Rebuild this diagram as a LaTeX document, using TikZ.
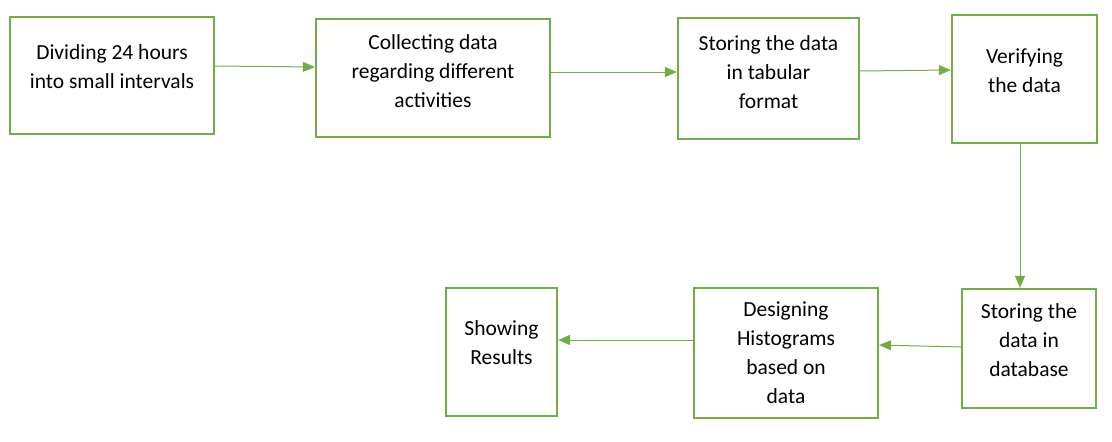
\documentclass[tikz,border=0pt]{standalone}
\usepackage{fontspec}
\setmainfont{Carlito}
\usetikzlibrary{arrows.meta}
\definecolor{boxgreen}{HTML}{70AD47}

\begin{document}
\begin{tikzpicture}[x=1pt,y=-1pt]

		\tikzset{stepbox/.style = {draw=boxgreen,line width=2.2pt,inner sep=0pt}}
		\tikzset{txt/.style = {align=center,font=\fontsize{21.5}{29}\selectfont,inner sep=0pt}}
		\tikzset{edge/.style = {-{Triangle[length=12pt,width=10pt]},draw=boxgreen,line width=1pt}}
		\useasboundingbox (0,0) rectangle (1112,442);
		% boxes
		\node[stepbox,minimum width=204pt,minimum height=117pt] (div) at (112,75.5) {};
		\node[stepbox,minimum width=234pt,minimum height=118pt] (coll) at (433,78) {};
		\node[stepbox,minimum width=181pt,minimum height=121pt] (tab) at (768.5,78.5) {};
		\node[stepbox,minimum width=145pt,minimum height=128pt] (ver) at (1024.5,79) {};
		\node[stepbox,minimum width=134pt,minimum height=119pt] (db) at (1029,348.5) {};
		\node[stepbox,minimum width=184pt,minimum height=130pt] (hist) at (786,353) {};
		\node[stepbox,minimum width=111pt,minimum height=128pt] (res) at (501.5,352) {};
		% texts
		\node[txt] (divt) at (112,67) {Dividing 24 hours\\into small intervals};
		\node[txt] (collt) at (433,71) {Collecting data\\regarding different\\activities};
		\node[txt] (tabt) at (768.5,72) {Storing the data\\in tabular\\format};
		\node[txt] (vert) at (1024.5,71) {Verifying\\the data};
		\node[txt] (dbt) at (1029,340) {Storing the\\data in\\database};
		\node[txt] (histt) at (786,353) {Designing\\Histograms\\based on\\data};
		\node[txt] (rest) at (501.5,343) {Showing\\Results};
		%edges
		\draw[edge] ([yshift=9.5pt]div.east) -- ([yshift=11pt]coll.west);
		\draw[edge] ([yshift=6pt]coll.east) -- ([yshift=6.5pt]tab.west);
		\draw[edge] ([yshift=7.5pt]tab.east) -- ([yshift=9pt]ver.west);
		\draw[edge] ([xshift=-4.5pt]ver.south) -- ([xshift=-9pt]db.north);
		\draw[edge] ([yshift=1.5pt]db.west) -- ([yshift=8pt]hist.east);
		\draw[edge] ([yshift=13pt]hist.west) -- ([yshift=12pt]res.east);
\end{tikzpicture}
\end{document}
